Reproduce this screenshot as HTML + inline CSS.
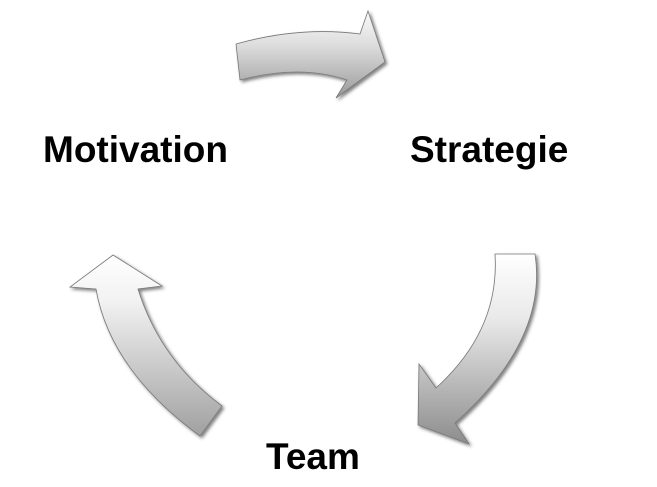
<!DOCTYPE html>
<html><head><meta charset="utf-8"><style>
html,body{margin:0;padding:0;background:#fff;width:657px;height:487px;overflow:hidden}
svg{position:absolute;left:0;top:0}
text{font-family:"Liberation Sans",sans-serif;font-weight:bold;font-size:37px;fill:#000}
</style></head><body>
<svg width="657" height="487" viewBox="0 0 657 487">
<defs>
<linearGradient id="gv" x1="0" y1="0" x2="0" y2="1">
<stop offset="0" stop-color="#fafafa"/><stop offset="0.4" stop-color="#dcdcdc"/><stop offset="1" stop-color="#9a9a9a"/>
</linearGradient>
<linearGradient id="gd" x1="0" y1="0" x2="0" y2="1">
<stop offset="0" stop-color="#ffffff"/><stop offset="0.35" stop-color="#e8e8e8"/><stop offset="1" stop-color="#8c8c8c"/>
</linearGradient>
<linearGradient id="gu" x1="0" y1="0" x2="0" y2="1">
<stop offset="0" stop-color="#ffffff"/><stop offset="0.25" stop-color="#f2f2f2"/><stop offset="1" stop-color="#a0a0a0"/>
</linearGradient>
<filter id="sh" x="-20%" y="-20%" width="140%" height="140%"><feDropShadow dx="2" dy="2" stdDeviation="1.5" flood-color="#000" flood-opacity="0.5"/></filter>
</defs>
<path filter="url(#sh)" fill="url(#gv)" stroke="#777" stroke-width="0.8"
 d="M236,44 Q300,26 360,34 L368,11 L385,62 L336,98 L347,80 Q300,64 240,80 Z"/>
<path filter="url(#sh)" fill="url(#gd)" stroke="#777" stroke-width="0.8"
 d="M495,254 L535,254 Q548,340 455,423 L469,444 L418,425 L419,364 L436,388 Q500,330 495,254 Z"/>
<path filter="url(#sh)" fill="url(#gu)" stroke="#777" stroke-width="0.8"
 d="M113,255 L162,286 L138,289 Q160,360 222,406 L200,436 Q110,370 96,289 L70,287 Z"/>
<text x="43" y="162">Motivation</text>
<text x="410" y="162">Strategie</text>
<text x="266" y="469">Team</text>
</svg>
</body></html>
